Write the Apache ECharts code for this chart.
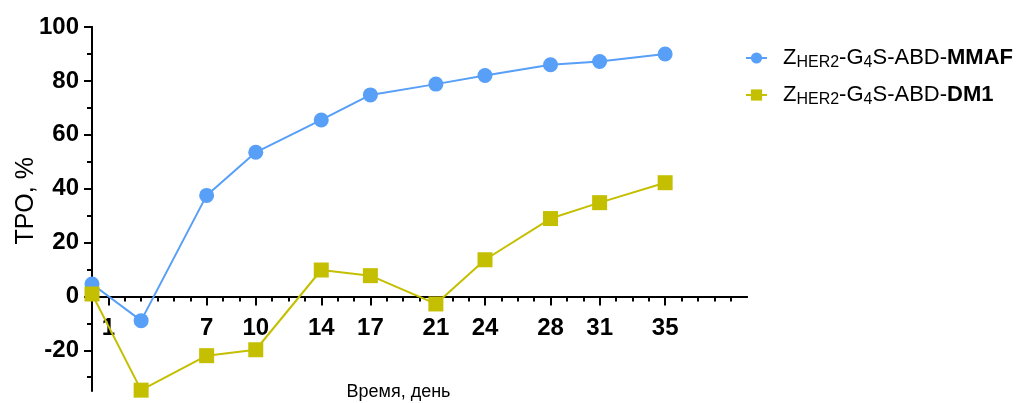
<!DOCTYPE html>
<html>
<head>
<meta charset="utf-8">
<script src="https://cdn.jsdelivr.net/npm/echarts@6/dist/echarts.min.js"></script>
<style>
  html, body { margin: 0; padding: 0; background: #fff; }
  #chart { width: 1021px; height: 403px; }
</style>
</head>
<body>
<div id="chart"></div>
<script>
// Measurement days
const days = [0, 3, 7, 10, 14, 17, 21, 24, 28, 31, 35];
// Tumour growth inhibition, %
const mmaf = [4.6, -9, 37.5, 53.5, 65.5, 74.8, 78.8, 82, 86, 87.2, 90];
const dm1 = [0.9, -34.8, -22, -19.8, 9.8, 7.7, -2.8, 13.6, 28.9, 34.8, 42.2];
// Axis tick labels
const xLabelDays = [1, 7, 10, 14, 17, 21, 24, 28, 31, 35];
const xMinorDays = Array.from({ length: 39 }, (_, i) => i + 1);
const yMajor = [-20, 0, 20, 40, 60, 80, 100];
const yMinor = [-30, -10, 10, 30, 50, 70, 90];

const seriesNames = ['ZHER2-G4S-ABD-MMAF', 'ZHER2-G4S-ABD-DM1'];
const legendRich = {
  'ZHER2-G4S-ABD-MMAF': '{n|Z}{s|HER2}{n|-G}{s|4}{n|S-ABD-}{b|MMAF}',
  'ZHER2-G4S-ABD-DM1': '{n|Z}{s|HER2}{n|-G}{s|4}{n|S-ABD-}{b|DM1}'
};

const FONT = '"Liberation Sans", Arial, sans-serif';
const BLUE = '#579ff7';
const OLIVE = '#c4bf00';

// Plot box (px) and value range
const Y_MIN = -35, Y_MAX = 100, X_MIN = 0, X_MAX = 40;
const PLOT_LEFT = 92, PLOT_TOP = 27, PLOT_RIGHT = 747, PLOT_BOTTOM = 390.7;
const pxPerUnit = (PLOT_BOTTOM - PLOT_TOP) / (Y_MAX - Y_MIN);
const zeroY = PLOT_TOP + Y_MAX * pxPerUnit;

const pairs = (xs, ys) => xs.map((x, i) => [x, ys[i]]);

const chart = echarts.init(document.getElementById('chart'), null, { renderer: 'canvas' });

const tickLine = { color: '#000', width: 2 };
const yBase = {
  type: 'value', min: Y_MIN, max: Y_MAX, position: 'left', gridIndex: 0,
  splitLine: { show: false },
  axisLine: { show: true, onZero: false, lineStyle: tickLine }
};
// the day axis sits on the zero line: a second grid ends exactly there
const xDayBase = {
  type: 'value', min: X_MIN, max: X_MAX, position: 'bottom', gridIndex: 1,
  splitLine: { show: false },
  axisLine: { show: true, onZero: false, lineStyle: tickLine }
};

chart.setOption({
  animation: false,
  backgroundColor: '#fff',
  grid: [
    {
      left: PLOT_LEFT, top: PLOT_TOP, width: PLOT_RIGHT - PLOT_LEFT, height: PLOT_BOTTOM - PLOT_TOP,
      containLabel: false, outerBoundsMode: 'none'
    },
    {
      left: PLOT_LEFT, top: PLOT_TOP, width: PLOT_RIGHT - PLOT_LEFT, height: zeroY - PLOT_TOP,
      containLabel: false, outerBoundsMode: 'none'
    }
  ],
  legend: {
    orient: 'vertical',
    left: 740,
    top: 42,
    itemWidth: 21,
    itemHeight: 14,
    itemGap: 13,
    data: seriesNames,
    formatter: name => legendRich[name],
    textStyle: {
      padding: [0, 0, 0, 11],
      rich: {
        n: { fontFamily: FONT, fontSize: 22, color: '#000', lineHeight: 26, verticalAlign: 'middle' },
        s: { fontFamily: FONT, fontSize: 16, color: '#000', lineHeight: 15, verticalAlign: 'bottom' },
        b: { fontFamily: FONT, fontSize: 22, fontWeight: 'bold', color: '#000', lineHeight: 26, verticalAlign: 'middle' }
      }
    }
  },
  xAxis: [
    // data axis of the plot, drawing nothing itself
    { type: 'value', min: X_MIN, max: X_MAX, gridIndex: 0, show: false },
    Object.assign({}, xDayBase, {
      name: 'Время, день',
      nameLocation: 'middle',
      nameGap: 87,
      nameMoveOverlap: false,
      nameTextStyle: { fontFamily: FONT, fontSize: 18, color: '#000', padding: [0, 42, 0, 0] },
      axisTick: { show: true, customValues: xLabelDays, length: 9, lineStyle: tickLine },
      axisLabel: {
        customValues: xLabelDays, margin: 20,
        fontFamily: FONT, fontSize: 24, fontWeight: 'bold', color: '#000'
      }
    }),
    Object.assign({}, xDayBase, {
      axisTick: { show: true, customValues: xMinorDays, length: 5, lineStyle: tickLine },
      axisLabel: { show: false }
    })
  ],
  yAxis: [
    Object.assign({}, yBase, {
      name: 'TPO, %',
      nameLocation: 'middle',
      nameGap: 53,
      nameMoveOverlap: false,
      nameTextStyle: { fontFamily: FONT, fontSize: 25, color: '#000', padding: [0, 0, 0, 16] },
      axisTick: { show: true, customValues: yMajor, length: 8, lineStyle: tickLine },
      axisLabel: {
        customValues: yMajor, margin: 13,
        fontFamily: FONT, fontSize: 24, fontWeight: 'bold', color: '#000'
      }
    }),
    Object.assign({}, yBase, {
      axisTick: { show: true, customValues: yMinor, length: 5, lineStyle: tickLine },
      axisLabel: { show: false }
    }),
    { type: 'value', min: 0, max: Y_MAX, gridIndex: 1, show: false }
  ],
  series: [
    {
      name: seriesNames[0], type: 'line', xAxisIndex: 0, yAxisIndex: 0,
      data: pairs(days, mmaf),
      symbol: 'circle', symbolSize: 15,
      lineStyle: { color: BLUE, width: 2 },
      itemStyle: { color: BLUE }
    },
    {
      name: seriesNames[1], type: 'line', xAxisIndex: 0, yAxisIndex: 0,
      data: pairs(days, dm1),
      symbol: 'rect', symbolSize: 15,
      lineStyle: { color: OLIVE, width: 2 },
      itemStyle: { color: OLIVE }
    }
  ]
});
</script>
</body>
</html>
